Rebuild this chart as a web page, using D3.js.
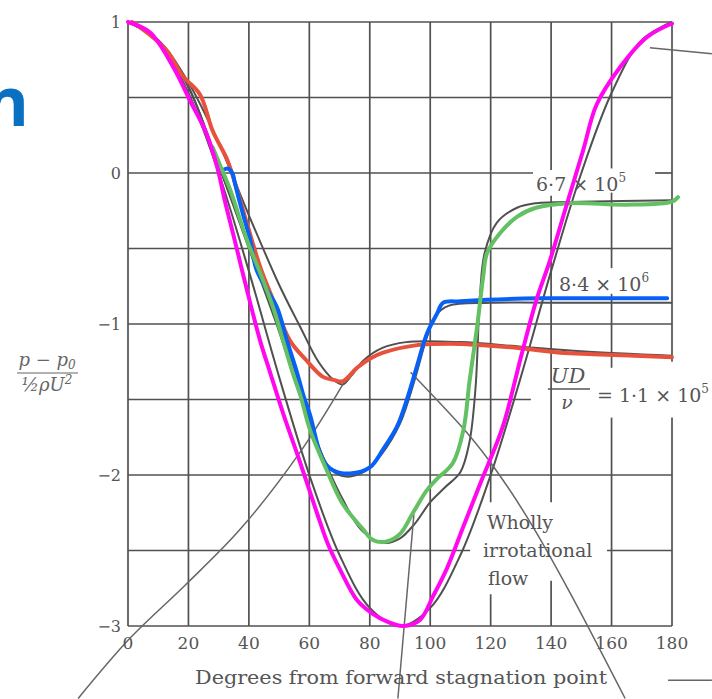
<!DOCTYPE html>
<html>
<head>
<meta charset="utf-8">
<script src="https://cdn.jsdelivr.net/npm/d3@7"></script>
<style>
  html, body { margin: 0; padding: 0; background: #fff; }
  svg { display: block; }
</style>
</head>
<body>
<div id="chart"></div>
<script>

let width = 712;
let height = 699;

// axis ticks
let degTicks = [0, 20, 40, 60, 80, 100, 120, 140, 160, 180];
let valueTicks = [1, 0, -1, -2, -3];
let valueTickLabels = ["1", "0", "\u22121", "\u22122", "\u22123"];
let gridValues = [1, 0.5, 0, -0.5, -1, -1.5, -2, -2.5, -3];

// printed curves of the scanned figure  [degrees, (p-p0)/(1/2 rho U^2)]
let printIrrotational = [[0,1],[10,0.88],[20,0.53],[30,0.0],[40,-0.65],[50,-1.35],[60,-2.0],[70,-2.53],[80,-2.88],[90,-3.0],[100,-2.88],[110,-2.53],[120,-2.0],[130,-1.35],[140,-0.65],[150,0.0],[160,0.53],[170,0.88],[180,1.0]];
let print11e5 = [[0,1],[10,0.88],[20,0.6],[30,0.2],[40,-0.28],[50,-0.74],[57,-1.02],[63,-1.25],[68,-1.37],[71,-1.40],[74,-1.34],[78,-1.24],[84,-1.16],[92,-1.12],[110,-1.12],[130,-1.15],[150,-1.18],[180,-1.21]];
let print67e5 = [[0,1],[10,0.88],[20,0.57],[30,0.05],[40,-0.5],[50,-1.05],[60,-1.65],[70,-2.12],[78,-2.38],[85,-2.45],[90,-2.42],[95,-2.32],[100,-2.18],[105,-2.08],[110,-1.98],[113,-1.78],[115,-1.42],[116.5,-0.8],[118,-0.53],[122,-0.33],[128.7,-0.23],[135,-0.2],[150,-0.19],[180,-0.18]];
let print84e6 = [[0,1],[10,0.88],[20,0.57],[30,0.05],[40,-0.48],[50,-1.0],[57,-1.42],[62,-1.76],[67,-1.96],[72,-2.01],[78,-1.98],[84,-1.86],[90,-1.66],[95,-1.36],[99,-1.08],[102,-0.94],[106,-0.88],[120,-0.86],[150,-0.86],[180,-0.86]];

// hand traced coloured curves
let redTrace = [[1.3,1.0],[6.3,0.93],[12.9,0.81],[18.2,0.64],[23.8,0.52],[28,0.28],[32.8,0.09],[34.7,-0.02],[39.3,-0.33],[43.7,-0.62],[48,-0.84],[53.6,-1.11],[59,-1.24],[64.5,-1.35],[68,-1.37],[71,-1.38],[75.8,-1.29],[80,-1.23],[84.4,-1.19],[95.6,-1.14],[106.6,-1.13],[117.5,-1.14],[129.7,-1.16],[143,-1.19],[153.9,-1.20],[180,-1.22]];
let greenTrace = [[28,0.17],[30.5,0.05],[33.8,-0.11],[39.3,-0.44],[43.7,-0.66],[48,-0.89],[51.3,-1.11],[54.6,-1.33],[57,-1.47],[60.2,-1.70],[65.8,-1.97],[71,-2.19],[77.8,-2.36],[81,-2.43],[85.6,-2.44],[90,-2.39],[94.3,-2.25],[98.9,-2.10],[102,-2.03],[107.5,-1.92],[111,-1.70],[113,-1.38],[115.5,-1.02],[117.5,-0.69],[118.8,-0.53],[123,-0.40],[128.7,-0.29],[135,-0.23],[146,-0.20],[165,-0.21],[180,-0.19],[182,-0.16]];
let blueTrace = [[31.5,0.02],[33,0.03],[34.5,0.0],[35.4,-0.07],[38,-0.27],[40.4,-0.44],[42.5,-0.64],[45.9,-0.77],[49.3,-0.89],[52.6,-1.11],[55.9,-1.32],[58,-1.47],[60.2,-1.60],[64.5,-1.90],[68,-1.97],[73.5,-1.99],[80,-1.95],[84.4,-1.83],[89,-1.68],[92.3,-1.50],[95.6,-1.28],[99,-1.06],[102.3,-0.93],[104.2,-0.86],[110,-0.85],[118.8,-0.84],[136,-0.83],[160,-0.83],[178.4,-0.83]];
let magentaTrace = [[0,1.0],[7.3,0.93],[15,0.70],[20.5,0.48],[26,0.26],[29.5,0.04],[32,-0.18],[35,-0.42],[39.3,-0.77],[43.7,-1.11],[47,-1.32],[51.3,-1.59],[57,-1.92],[62.5,-2.25],[66,-2.45],[70,-2.62],[75.8,-2.83],[81,-2.92],[85.6,-2.97],[91,-3.0],[96.6,-2.96],[101,-2.80],[105.5,-2.62],[111,-2.34],[116.5,-2.06],[124,-1.68],[130,-1.22],[135,-0.85],[139.6,-0.58],[145,-0.22],[150.6,0.15],[155,0.45],[162.8,0.70],[171.7,0.90],[180,0.99]];

// leader lines of the figure
let leaderA = [[71.1,-1.40],[56.9,-1.85],[37.1,-2.36],[18.9,-2.73],[0.7,-3.08],[-16.5,-3.48]];
let leaderB = [[93.5,-1.32],[113,-1.74],[121.5,-1.96],[133,-2.31],[146,-2.77],[164.5,-3.48]];
let leaderC = [[89.3,-3.48],[94.6,-2.26]];
let leaderTop = [[172.7,0.83],[193.2,0.79]];
let leaderBottom = [[178.7,-3.36],[193.2,-3.36]];

// gaps in the printed grid around the labels
let hGaps = {"0": [[134, 174.4]], "-1.5": [[133.3, 180]], "-2.5": [[113.2, 158.5]]};
let vGaps = {"120": [[-2.18, -2.79]], "140": [[0.02, -0.15], [-2.18, -2.70]], "160": [[0.03, -0.13], [-0.63, -0.80], [-1.29, -1.62]], "180": [[-1.25, -1.62]]};

let x = d3.scaleLinear().domain([0, 180]).range([128, 672]);
let y = d3.scaleLinear().domain([-3, 1]).range([626, 22]);

let ink = "#3f3f3f";
let serif = "'DejaVu Serif', 'Liberation Serif', serif";

var svg = d3.select("#chart").append("svg")
  .attr("width", width)
  .attr("height", height);

// split a full span into pieces leaving out the gaps
function pieces(lo, hi, gaps) {
  let out = [];
  let start = lo;
  (gaps || []).slice().sort(function(a, b){ return a[0] - b[0] }).forEach(function(g){
    out.push([start, g[0]]);
    start = g[1];
  });
  out.push([start, hi]);
  return out;
}

let grid = svg.append("g")
  .attr("stroke", ink)
  .attr("stroke-width", 1.7)
  .attr("opacity", 0.9);

gridValues.forEach(function(v){
  pieces(0, 180, hGaps[String(v)]).forEach(function(p){
    grid.append("line")
      .attr("x1", x(p[0])).attr("x2", x(p[1]))
      .attr("y1", y(v)).attr("y2", y(v));
  })
})

degTicks.forEach(function(d){
  // gaps are stored top to bottom, so flip them to ascending order
  let g = (vGaps[String(d)] || []).map(function(a){ return [-a[0], -a[1]] });
  pieces(-1, 3, g).forEach(function(p){
    grid.append("line")
      .attr("x1", x(d)).attr("x2", x(d))
      .attr("y1", y(-p[0])).attr("y2", y(-p[1]));
  })
})

let smooth = d3.line()
  .x(function(d){ return x(d[0]) })
  .y(function(d){ return y(d[1]) })
  .curve(d3.curveCatmullRom.alpha(0.5));

let straight = d3.line()
  .x(function(d){ return x(d[0]) })
  .y(function(d){ return y(d[1]) });

// printed curves
svg.selectAll(".printed")
  .data([printIrrotational, print11e5, print67e5, print84e6])
  .join("path")
  .attr("class", "printed")
  .attr("d", smooth)
  .style("fill", "none")
  .style("stroke", "#505050")
  .style("stroke-width", 2);

// leader lines
svg.selectAll(".leader")
  .data([leaderA, leaderB, leaderC, leaderTop, leaderBottom])
  .join("path")
  .attr("class", "leader")
  .attr("d", function(d){ return d.length > 2 ? smooth(d) : straight(d) })
  .style("fill", "none")
  .style("stroke", "#666")
  .style("stroke-width", 1.5);

// tick labels
svg.selectAll(".ylab")
  .data(valueTicks)
  .join("text")
  .attr("class", "ylab")
  .attr("x", 121)
  .attr("y", function(d){ return y(d) + 6 })
  .attr("text-anchor", "end")
  .style("font-family", serif)
  .style("font-size", "16px")
  .style("fill", "#555")
  .text(function(d, i){ return valueTickLabels[i] });

svg.selectAll(".xlab")
  .data(degTicks)
  .join("text")
  .attr("class", "xlab")
  .attr("x", function(d){ return x(d) })
  .attr("y", 649)
  .attr("text-anchor", "middle")
  .style("font-family", serif)
  .style("font-size", "17px")
  .style("fill", "#555")
  .text(function(d){ return d });

svg.append("text")
  .attr("x", 195)
  .attr("y", 684)
  .attr("textLength", 412)
  .attr("lengthAdjust", "spacingAndGlyphs")
  .style("font-family", serif)
  .style("font-size", "19px")
  .style("fill", "#555")
  .text("Degrees from forward stagnation point");

// y axis quantity as a fraction
let ylabel = svg.append("g")
  .style("font-family", serif)
  .style("font-style", "italic")
  .style("font-size", "18px")
  .style("fill", "#666");
ylabel.append("text").attr("x", 47).attr("y", 366).attr("text-anchor", "middle")
  .html("p \u2212 p<tspan font-size='12px' dy='3'>0</tspan>");
ylabel.append("line").attr("x1", 17).attr("x2", 78).attr("y1", 373).attr("y2", 373)
  .attr("stroke", "#666").attr("stroke-width", 1.2);
ylabel.append("text").attr("x", 47).attr("y", 391).attr("text-anchor", "middle")
  .html("\u00bd\u03c1U<tspan font-size='12px' dy='-7'>2</tspan>");

// curve labels
let labels = svg.append("g")
  .style("font-family", serif)
  .style("font-size", "19px")
  .style("fill", "#555");

labels.append("text").attr("x", 536).attr("y", 191)
  .html("6\u00b77 \u00d7 10<tspan font-size='12px' dy='-9'>5</tspan>");
labels.append("text").attr("x", 559).attr("y", 291)
  .html("8\u00b74 \u00d7 10<tspan font-size='12px' dy='-9'>6</tspan>");
labels.append("text").attr("x", 568).attr("y", 383).attr("text-anchor", "middle")
  .style("font-style", "italic").style("font-size", "21px").text("UD");
labels.append("line").attr("x1", 548).attr("x2", 590).attr("y1", 389).attr("y2", 389)
  .attr("stroke", "#555").attr("stroke-width", 1.3);
labels.append("text").attr("x", 567).attr("y", 409).attr("text-anchor", "middle")
  .style("font-style", "italic").text("\u03bd");
labels.append("text").attr("x", 597).attr("y", 402)
  .html("= 1\u00b71 \u00d7 10<tspan font-size='12px' dy='-9'>5</tspan>");

labels.append("text").attr("x", 487).attr("y", 529).text("Wholly");
labels.append("text").attr("x", 483).attr("y", 557).text("irrotational");
labels.append("text").attr("x", 488).attr("y", 585).text("flow");

// coloured traces drawn over the scan
let traces = [
  {data: redTrace, color: "#e8513b"},
  {data: blueTrace, color: "#0761f7"},
  {data: greenTrace, color: "#63c063"},
  {data: magentaTrace, color: "#ff08f0"}
];

svg.selectAll(".trace")
  .data(traces)
  .join("path")
  .attr("class", "trace")
  .attr("d", function(d){ return smooth(d.data) })
  .style("fill", "none")
  .style("stroke", function(d){ return d.color })
  .style("stroke-width", 4)
  .style("stroke-linecap", "round")
  .style("stroke-linejoin", "round");

// cropped word from the slide behind the figure
svg.append("text")
  .attr("x", 29)
  .attr("y", 126)
  .attr("text-anchor", "end")
  .style("font-family", "'Open Sans', sans-serif")
  .style("font-weight", "bold")
  .style("font-size", "68px")
  .style("fill", "#0a70c2")
  .text("n");

</script>
</body>
</html>
